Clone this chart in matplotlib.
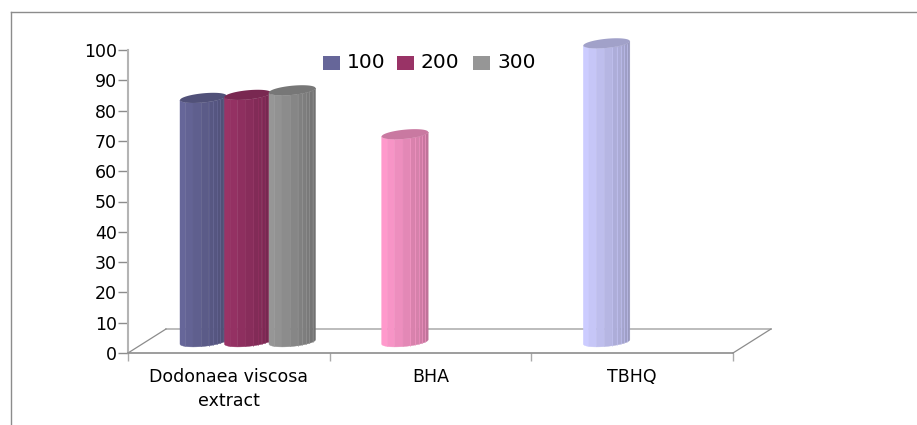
import numpy as np
import matplotlib
matplotlib.use('Agg')
import matplotlib.pyplot as plt
from matplotlib.colors import to_rgb
from matplotlib.lines import Line2D
from matplotlib.patches import Polygon, Rectangle

categories = ['Dodonaea viscosa\nextract', 'BHA', 'TBHQ']
series_names = ['100', '200', '300']
values_100 = [80.5, 68.5, 98.5]
values_200 = [81.5, None, None]
values_300 = [83, None, None]
yticks = list(range(0, 101, 10))

series_colors = ['#666699', '#993366', '#969696']
point_colors = [['#666699', '#ff99cc', '#ccccff'], ['#993366'] * 3, ['#969696'] * 3]

W, H = 917, 425
X0, X1, Y0, Y100 = 128, 733, 353, 50
PX = 3.0 / (X1 - X0)        # data units per pixel, x
PY = 100.0 / (Y0 - Y100)    # data units per pixel, y

fig = plt.figure(figsize=(W / 100, H / 100), dpi=100)
ax = fig.add_axes([X0 / W, 1 - Y0 / H, (X1 - X0) / W, (Y0 - Y100) / H])
ax.set_xlim(0, 3)
ax.set_ylim(0, 100)

# outer chart frame, only top and left show
fig.add_artist(Line2D([11 / W, 11 / W], [0, 1 - 12 / H], color='#8c8c8c', lw=1.0))
fig.add_artist(Line2D([11 / W, 1], [1 - 12 / H, 1 - 12 / H], color='#8c8c8c', lw=1.0))

# axes
for s in ['top', 'right']:
    ax.spines[s].set_visible(False)
ax.spines['left'].set_color('#b4b4b4')
ax.spines['left'].set_linewidth(1.5)
ax.spines['bottom'].set_color('#8c8c8c')
ax.spines['bottom'].set_linewidth(1.2)
ax.set_yticks(yticks)
ax.tick_params(axis='y', length=7, width=1, color='#8c8c8c', labelsize=12.5, pad=1, labelcolor='black')
ax.set_xticks(range(4))
ax.set_xticklabels([])
ax.tick_params(axis='x', which='major', length=6, width=1, color='#aaaaaa')
ax.set_xticks([0.5, 1.5, 2.5], minor=True)
ax.set_xticklabels(categories, minor=True, fontsize=12.5, linespacing=1.4)
ax.tick_params(axis='x', which='minor', length=0, pad=11)

# floor of the 3d box
floor_dx, floor_dy = 38 * PX, 24 * PY
ax.plot([floor_dx, 3 + floor_dx], [floor_dy, floor_dy], color='#b0b0b0', lw=1.2, clip_on=False, zorder=1)
ax.plot([0, floor_dx], [0, floor_dy], color='#8c8c8c', lw=0.9, clip_on=False, zorder=1)
ax.plot([3, 3 + floor_dx], [0, floor_dy], color='#8c8c8c', lw=0.9, clip_on=False, zorder=1)


def shade(color, f):
    return tuple(c * f for c in to_rgb(color))


def ring(t, cx, base, rx, ry, skew):
    # point on the tilted ellipse, t in radians
    return cx + rx * np.cos(t), base + ry * np.sin(t) + skew * np.cos(t)


def cylinder(left, value, color):
    width = 46.5 * PX
    rx = width / 2
    cx = left + rx
    ry = 4.6 * PY
    skew = 2.2 * PY
    base = 11.2 * PY
    top = base + value

    # facets get narrower towards the right side
    edges = np.array([0, .12, .28, .46, .62, .72, .80, .87, .94, 1.0])
    factors = [1.0, .97, .93, .89, .85, .84, .81, .78, .75]
    angles = np.pi + np.arccos(1 - 2 * edges)
    for i in range(len(factors)):
        ts = np.linspace(angles[i], angles[i + 1], 8)
        xb, yb = ring(ts, cx, base, rx, ry, skew)
        xt, yt = ring(ts[::-1], cx, top, rx, ry, skew)
        pts = np.column_stack([np.r_[xb, xt], np.r_[yb, yt]])
        fc = shade(color, factors[i])
        ax.add_patch(Polygon(pts, closed=True, fc=fc, ec=fc, lw=0.3, zorder=3 + left, clip_on=False))
        # faint light seams on the narrow strips
        if i >= 4:
            ax.plot([xb[0], xb[0]], [yb[0], yt[-1]], color=shade(color, .98), lw=0.4, zorder=3.01 + left,
                    clip_on=False)
    ts = np.linspace(0, 2 * np.pi, 60)
    xt, yt = ring(ts, cx, top, rx, ry, skew)
    ax.add_patch(Polygon(np.column_stack([xt, yt]), closed=True, fc=shade(color, .79), ec='none',
                         zorder=3.02 + left, clip_on=False))


first_left = (180 - X0) * PX
slot = 44.5 * PX
for k, vals in enumerate([values_100, values_200, values_300]):
    for i, v in enumerate(vals):
        if v is not None:
            cylinder(i + first_left + k * slot, v, point_colors[k][i])

# legend keys and labels, placed in pixels of the figure
for name, col, x in zip(series_names, series_colors, [323, 397, 473]):
    fig.add_artist(Rectangle((x / W, 1 - 70 / H), 17 / W, 14 / H, transform=fig.transFigure, fc=col, ec='none'))
    fig.text((x + 24) / W, 1 - 63 / H, name, fontsize=14.5, va='center', ha='left', color='black')

fig.savefig('out.png', dpi=100)
